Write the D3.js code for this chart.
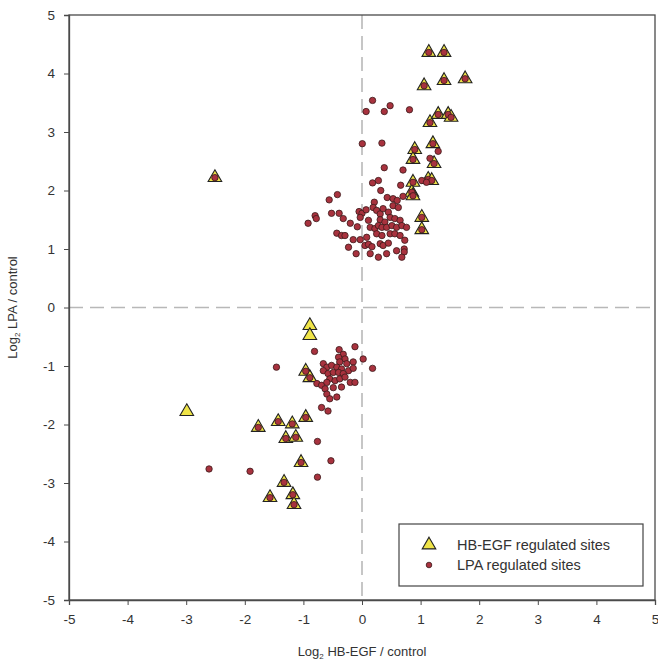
<!DOCTYPE html>
<html><head><meta charset="utf-8">
<script src="https://cdn.jsdelivr.net/npm/d3@7"></script>
<style>body{margin:0;background:#fff;} svg{display:block;font-family:"Liberation Sans",Arial,sans-serif;}</style>
</head><body>
<svg id="c" width="658" height="662"></svg>
<script>
// HB-EGF regulated sites (triangles)
const hbX = [1.14,1.40,1.06,1.40,1.76,1.16,1.30,1.47,1.52,1.21,0.90,0.87,1.23,1.13,1.19,0.87,0.85,0.87,1.02,1.02,-2.51,
             -0.89,-0.89,-2.99,-0.96,-0.89,-1.77,-1.43,-1.19,-0.96,-1.30,-1.13,-1.04,-1.33,-1.57,-1.18,-1.16];
const hbY = [4.36,4.36,3.79,3.88,3.91,3.16,3.30,3.30,3.25,2.80,2.70,2.53,2.46,2.19,2.17,2.14,1.97,1.91,1.54,1.33,2.22,
             -0.31,-0.48,-1.78,-1.09,-1.20,-2.05,-1.95,-1.99,-1.88,-2.24,-2.22,-2.65,-2.99,-3.25,-3.20,-3.37];
// LPA regulated sites (circles)
const lpaX = [
  // sites also HB-EGF regulated
  1.14,1.40,1.06,1.40,1.76,1.16,1.30,1.47,1.52,1.21,0.90,0.87,1.23,1.13,1.19,0.87,0.85,0.87,1.02,1.02,-2.51,
  -0.96,-0.89,-1.77,-1.43,-1.19,-0.96,-1.30,-1.13,-1.04,-1.33,-1.57,-1.18,-1.16,
  // upper cluster
  0.18,0.48,0.07,0.38,0.81,0.005,0.34,1.30,1.16,0.38,0.70,0.18,0.28,0.66,1.02,1.10,0.32,-0.56,-0.42,0.43,0.53,0.60,0.70,0.21,
  -0.80,-0.92,-0.78,-0.52,-0.39,-0.32,-0.20,-0.08,-0.43,-0.35,-0.29,-0.23,-0.15,-0.10,-0.05,0.00,0.07,-0.03,0.11,0.19,0.25,
  0.31,0.36,0.45,0.53,0.62,0.31,0.39,0.48,0.56,0.65,0.14,0.22,0.28,0.34,0.42,0.51,0.59,0.68,0.76,0.25,0.34,0.48,0.56,0.65,
  0.73,0.08,-0.03,0.05,0.11,0.17,0.31,0.36,0.45,0.14,0.28,0.42,0.59,0.72,0.72,0.68,
  // lower cluster
  -0.81,-1.46,-0.12,0.02,0.18,-0.39,-0.32,-0.40,-0.29,-0.38,-0.26,-0.15,-0.66,-0.60,-0.52,-0.43,-0.35,-0.23,-0.15,-0.66,
  -0.58,-0.49,-0.40,-0.32,-0.55,-0.46,-0.38,-0.29,-0.77,-0.69,-0.60,-0.20,-0.12,-0.63,-0.49,-0.35,-0.60,-0.55,-0.43,-0.69,
  -0.58,-0.76,-0.53,-0.76,-2.61,-1.91];
const lpaY = [
  4.36,4.36,3.79,3.88,3.91,3.16,3.30,3.30,3.25,2.80,2.70,2.53,2.46,2.19,2.17,2.14,1.97,1.91,1.54,1.33,2.22,
  -1.09,-1.20,-2.05,-1.95,-1.99,-1.88,-2.24,-2.22,-2.65,-2.99,-3.25,-3.20,-3.37,
  3.54,3.45,3.35,3.35,3.38,2.80,2.81,2.67,2.55,2.39,2.35,2.13,2.17,2.09,2.17,2.14,2.00,1.84,1.93,1.88,1.86,1.83,1.90,1.80,
  1.57,1.44,1.52,1.61,1.61,1.52,1.44,1.38,1.27,1.23,1.23,1.03,1.16,0.92,1.64,1.61,1.67,1.54,1.49,1.71,1.66,
  1.60,1.69,1.63,1.74,1.71,1.50,1.46,1.54,1.52,1.49,1.37,1.35,1.40,1.37,1.37,1.40,1.37,1.40,1.37,1.26,1.23,1.26,1.26,1.23,
  1.15,1.20,1.16,1.06,1.08,1.04,1.09,1.06,1.10,0.92,0.86,0.92,0.97,1.00,0.95,0.86,
  -0.75,-1.02,-0.67,-0.88,-1.04,-0.72,-0.80,-0.85,-0.88,-0.93,-0.96,-0.93,-0.96,-1.02,-0.99,-1.02,-1.05,-1.08,-1.04,-1.08,
  -1.13,-1.11,-1.11,-1.13,-1.22,-1.25,-1.22,-1.19,-1.30,-1.33,-1.28,-1.28,-1.28,-1.39,-1.37,-1.36,-1.48,-1.56,-1.53,-1.71,
  -1.77,-2.29,-2.62,-2.90,-2.76,-2.80];
const xTicks = [-5,-4,-3,-2,-1,0,1,2,3,4,5];
const yTicks = [-5,-4,-3,-2,-1,0,1,2,3,4,5];
const legendLabels = ["HB-EGF regulated sites","LPA regulated sites"];

const svg = d3.select("#c");
const x = d3.scaleLinear().domain([-5,5]).range([69,655]);
const y = d3.scaleLinear().domain([-5,5]).range([600,15]);
const frame = "#4a4a4a";

// zero dashed lines
svg.append("line").attr("x1",x(0)).attr("x2",x(0)).attr("y1",y(5)).attr("y2",y(-5))
  .attr("stroke","#b8b8b8").attr("stroke-width",1.6).attr("stroke-dasharray","14,7");
svg.append("line").attr("x1",x(-5)).attr("x2",x(5)).attr("y1",y(0)).attr("y2",y(0))
  .attr("stroke","#b8b8b8").attr("stroke-width",1.6).attr("stroke-dasharray","14,7");

// frame
svg.append("rect").attr("x",x(-5)).attr("y",y(5)).attr("width",x(5)-x(-5)).attr("height",y(-5)-y(5))
  .attr("fill","none").attr("stroke",frame).attr("stroke-width",1.3);

// axes
const fmt = d => String(d);
const xAxis = svg.append("g").attr("transform",`translate(0,${y(-5)})`)
  .call(d3.axisBottom(x).tickValues(xTicks).tickSize(5).tickPadding(9).tickFormat(fmt));
const yAxis = svg.append("g").attr("transform",`translate(${x(-5)},0)`)
  .call(d3.axisLeft(y).tickValues(yTicks).tickSize(5).tickPadding(9).tickFormat(fmt));
[xAxis,yAxis].forEach(g=>{
  g.select(".domain").attr("stroke",frame).attr("stroke-width",1.3);
  g.selectAll(".tick line").attr("stroke",frame);
  g.selectAll("text").attr("font-size",13.5).attr("fill","#333").attr("font-family","'Liberation Sans',Arial,sans-serif");
});

// triangles
const tri = d3.symbol().type(d3.symbolTriangle).size(80);
svg.append("g").selectAll("path").data(hbX.map((v,i)=>[v,hbY[i]])).join("path")
  .attr("d",tri).attr("transform",d=>`translate(${x(d[0])},${y(d[1])})`)
  .attr("fill","#efe448").attr("stroke","#222").attr("stroke-width",1.1);

// circles
svg.append("g").selectAll("circle").data(lpaX.map((v,i)=>[v,lpaY[i]])).join("circle")
  .attr("cx",d=>x(d[0])).attr("cy",d=>y(d[1])).attr("r",3.2)
  .attr("fill","#a8323e").attr("stroke","#3a1a1a").attr("stroke-width",0.8);

// axis titles
const xt = svg.append("text").attr("x",x(0)).attr("y",656).attr("text-anchor","middle")
  .attr("font-size",13).attr("fill","#333");
xt.append("tspan").text("Log");
xt.append("tspan").attr("font-size",8).attr("dy",3).text("2");
xt.append("tspan").attr("dy",-3).text(" HB-EGF / control");

const yt = svg.append("text").attr("transform",`translate(17,${y(0)}) rotate(-90)`).attr("text-anchor","middle")
  .attr("font-size",13).attr("fill","#333");
yt.append("tspan").text("Log");
yt.append("tspan").attr("font-size",8).attr("dy",3).text("2");
yt.append("tspan").attr("dy",-3).text(" LPA / control");

// legend
const lg = svg.append("g");
lg.append("rect").attr("x",399).attr("y",524).attr("width",244).attr("height",62)
  .attr("fill","#fff").attr("stroke","#444").attr("stroke-width",1.2);
lg.append("path").attr("d",tri).attr("transform","translate(429,545)")
  .attr("fill","#efe448").attr("stroke","#222").attr("stroke-width",1.1);
lg.append("circle").attr("cx",429).attr("cy",565).attr("r",2.8)
  .attr("fill","#a8323e").attr("stroke","#3a1a1a").attr("stroke-width",0.8);
lg.selectAll("text.l").data(legendLabels).join("text").attr("class","l")
  .attr("x",457).attr("y",(d,i)=>550+i*20).attr("font-size",14.5).attr("fill","#333").text(d=>d);
</script>
</body></html>
